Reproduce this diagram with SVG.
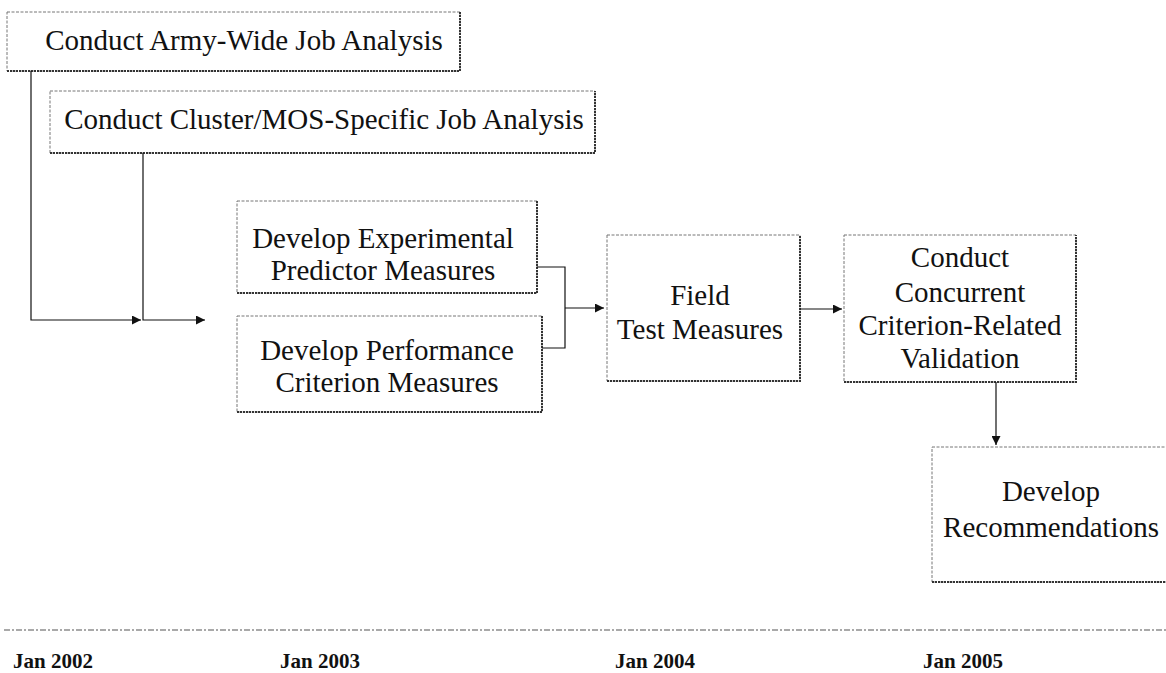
<svg xmlns="http://www.w3.org/2000/svg" width="1166" height="673" viewBox="0 0 1166 673">
  <defs>
    <marker id="arr" viewBox="0 0 10 10" refX="10" refY="5" markerWidth="9" markerHeight="9" markerUnits="userSpaceOnUse" orient="auto">
      <path d="M0,0 L10,5 L0,10 z" fill="#111"/>
    </marker>
  </defs>
  <style>
    .box { fill: none; stroke: #777; stroke-width: 1; stroke-dasharray: 3 1.5; }
    .shadow { fill: none; stroke: #333; stroke-width: 2; stroke-dasharray: 2 1; }
    .lbl { font-family: "Liberation Serif", "Times New Roman", serif; font-size: 29px; fill: #111; text-anchor: middle; }
    .date { font-family: "Liberation Serif", "Times New Roman", serif; font-size: 21px; font-weight: bold; fill: #111; }
    .conn { fill: none; stroke: #111; stroke-width: 1.2; }
    .axis { fill: none; stroke: #555; stroke-width: 1.2; stroke-dasharray: 6 2 2 2; }
  </style>
  <rect width="1166" height="673" fill="#fff"/>

  <g id="army-wide">
    <rect class="box" x="7" y="12" width="453" height="59"/>
    <polyline class="shadow" points="7,71 460,71 460,12"/>
    <text class="lbl" x="244" y="50">Conduct Army-Wide Job Analysis</text>
  </g>

  <g id="cluster-mos">
    <rect class="box" x="50" y="91" width="545" height="62"/>
    <polyline class="shadow" points="50,153 595,153 595,91"/>
    <text class="lbl" x="324" y="129">Conduct Cluster/MOS-Specific Job Analysis</text>
  </g>

  <g id="predictor">
    <rect class="box" x="237" y="201" width="300" height="92"/>
    <polyline class="shadow" points="237,293 537,293 537,201"/>
    <text class="lbl" x="383" y="248">Develop Experimental</text>
    <text class="lbl" x="383" y="280">Predictor Measures</text>
  </g>

  <g id="criterion">
    <rect class="box" x="237" y="316" width="305" height="96"/>
    <polyline class="shadow" points="237,412 542,412 542,316"/>
    <text class="lbl" x="387" y="360">Develop Performance</text>
    <text class="lbl" x="387" y="392">Criterion Measures</text>
  </g>

  <g id="field-test">
    <rect class="box" x="607" y="235" width="193" height="146"/>
    <polyline class="shadow" points="607,381 800,381 800,235"/>
    <text class="lbl" x="700" y="305">Field</text>
    <text class="lbl" x="700" y="339">Test Measures</text>
  </g>

  <g id="validation">
    <rect class="box" x="844" y="235" width="232" height="147"/>
    <polyline class="shadow" points="844,382 1076,382 1076,235"/>
    <text class="lbl" x="960" y="267">Conduct</text>
    <text class="lbl" x="960" y="302">Concurrent</text>
    <text class="lbl" x="960" y="335">Criterion-Related</text>
    <text class="lbl" x="960" y="368">Validation</text>
  </g>

  <g id="recommendations">
    <rect class="box" x="932" y="447" width="250" height="135"/>
    <polyline class="shadow" points="932,582 1170,582"/>
    <text class="lbl" x="1051" y="501">Develop</text>
    <text class="lbl" x="1051" y="537">Recommendations</text>
  </g>

  <g id="connectors">
    <polyline class="conn" points="31,71 31,320 141,320" marker-end="url(#arr)"/>
    <polyline class="conn" points="143,153 143,320 205,320" marker-end="url(#arr)"/>
    <polyline class="conn" points="537,267 565,267 565,348 542,348"/>
    <line class="conn" x1="565" y1="308" x2="604" y2="308" marker-end="url(#arr)"/>
    <line class="conn" x1="800" y1="309" x2="842" y2="309" marker-end="url(#arr)"/>
    <line class="conn" x1="996" y1="382" x2="996" y2="445" marker-end="url(#arr)"/>
  </g>

  <g id="timeline">
    <line class="axis" x1="4" y1="630" x2="1166" y2="630"/>
    <text class="date" x="13" y="668">Jan 2002</text>
    <text class="date" x="280" y="668">Jan 2003</text>
    <text class="date" x="615" y="668">Jan 2004</text>
    <text class="date" x="923" y="668">Jan 2005</text>
  </g>
</svg>
